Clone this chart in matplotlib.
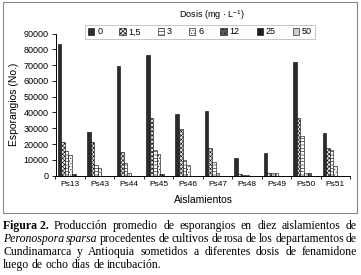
import numpy as np
import matplotlib
matplotlib.use('Agg')
import matplotlib.pyplot as plt
from matplotlib.patches import Rectangle

plt.rcParams['font.family'] = 'Liberation Sans'
plt.rcParams['mathtext.default'] = 'regular'
plt.rcParams['hatch.linewidth'] = 0.4

# Data (sporangia count per isolate and dose)
isolates = ['Ps13', 'Ps43', 'Ps44', 'Ps45', 'Ps46', 'Ps47', 'Ps48', 'Ps49', 'Ps50', 'Ps51']
dose_labels = ['0', '1,5', '3', '6', '12', '25', '50']
dose_0 = [83400, 27800, 69400, 76400, 39000, 41000, 11000, 14200, 71800, 26800]
dose_1_5 = [21500, 21100, 15000, 36300, 29400, 17300, 1100, 1500, 36700, 17300]
dose_3 = [15600, 7000, 8200, 16300, 9900, 8500, 700, 1500, 25300, 16300]
dose_6 = [13100, 5100, 1500, 13500, 6800, 1500, 700, 1500, 1500, 6100]
dose_12 = [1100, 0, 0, 800, 0, 0, 0, 0, 1500, 0]
dose_25 = [0, 0, 0, 0, 0, 0, 0, 0, 0, 0]
dose_50 = [0, 0, 0, 0, 0, 0, 0, 0, 0, 0]
series = [dose_0, dose_1_5, dose_3, dose_6, dose_12, dose_25, dose_50]

# bar looks (face colour, hatch) for each dose
faces = ['#2b2b2b', '#e8e8e8', 'white', 'white', '#5a5a5a', '#1e1e1e', '#cfcfcf']
hatches = [None, 'xxxxxxxx', '-----', '......', '....', None, None]

W, H = 361, 275
fig = plt.figure(figsize=(W / 100, H / 100), dpi=100)

# frame around the chart
fig.patches.append(Rectangle((3 / W, 1 - 213 / H), 354 / W, 211 / H, transform=fig.transFigure,
                             fill=False, edgecolor='#888888', linewidth=0.8))

ax = fig.add_axes([55.5 / W, 1 - 175.7 / H, (350 - 55.5) / W, (175.7 - 33.5) / H])
x = np.arange(len(isolates))
bw = 0.122
for i, vals in enumerate(series):
    pos = x + (i - 3) * bw
    ax.bar(pos, vals, width=bw, color=faces[i], edgecolor='black', linewidth=0.4,
           hatch=hatches[i], label=dose_labels[i])

ax.set_xlim(-0.5, len(isolates) - 0.5)
ax.set_ylim(0, 90000)
ax.set_yticks(np.arange(0, 90001, 10000))
ax.set_xticks(x)
ax.set_xticklabels(isolates, fontsize=6)
ax.set_xticks(np.arange(-0.5, len(isolates), 1), minor=True)
ax.tick_params(axis='x', which='major', length=0, pad=4)
ax.tick_params(axis='x', which='minor', length=2, width=0.6)
ax.tick_params(axis='y', labelsize=6.5, length=3, width=0.6, pad=2)
for s in ['top', 'right']:
    ax.spines[s].set_visible(False)
for s in ['left', 'bottom']:
    ax.spines[s].set_linewidth(0.7)

fig.text(203 / W, 1 - 200 / H, 'Aislamientos', ha='center', va='center', fontsize=7.5)
fig.text(14 / W, 1 - 104 / H, 'Esporangios (No.)', ha='center', va='center',
         rotation=90, fontsize=7.5)

leg = fig.legend(loc='center', bbox_to_anchor=(200 / W, 1 - 32 / H), ncol=7, fontsize=6.5,
                 frameon=True, fancybox=False, edgecolor='#aaaaaa', handlelength=0.7,
                 handleheight=0.7, handletextpad=0.3, columnspacing=1.9, borderpad=0.3)
leg.get_frame().set_linewidth(0.6)
fig.text(212 / W, 1 - 15 / H, 'Dosis (mg · L$^{-1}$)', ha='center', va='center', fontsize=6.5)

# caption, justified like the printed page
cap_font = 'Liberation Serif'
cap_size = 8.5
lines = [
    [('Figura 2.', 'bold', 'normal')] + [(w, 'normal', 'normal') for w in
     'Producción promedio de esporangios en diez aislamientos de'.split()],
    [('Peronospora', 'normal', 'italic'), ('sparsa', 'normal', 'italic')] +
    [(w, 'normal', 'normal') for w in
     'procedentes de cultivos de rosa de los departamentos de'.split()],
    [(w, 'normal', 'normal') for w in
     'Cundinamarca y Antioquia sometidos a diferentes dosis de fenamidone'.split()],
    [(w, 'normal', 'normal') for w in 'luego de ocho días de incubación.'.split()],
]
baselines = [229, 242, 255, 268]
renderer = fig.canvas.get_renderer()
x0, x1 = 3, 357
for li, (words, yb) in enumerate(zip(lines, baselines)):
    texts = [fig.text(0, 1 - yb / H, w, fontsize=cap_size, family=cap_font, weight=wt,
                      style=st, va='baseline') for w, wt, st in words]
    widths = [t.get_window_extent(renderer).width for t in texts]
    if li < len(lines) - 1:
        gap = (x1 - x0 - sum(widths)) / (len(texts) - 1)
        if gap < 1.5:
            # shrink the line a little so it still fits
            for t in texts:
                t.set_fontsize(cap_size * 0.96)
            widths = [t.get_window_extent(renderer).width for t in texts]
            gap = (x1 - x0 - sum(widths)) / (len(texts) - 1)
    else:
        gap = 2.8
    xp = x0
    for t, w in zip(texts, widths):
        t.set_x(xp / W)
        xp += w + gap

fig.savefig('out.png', dpi=100)
